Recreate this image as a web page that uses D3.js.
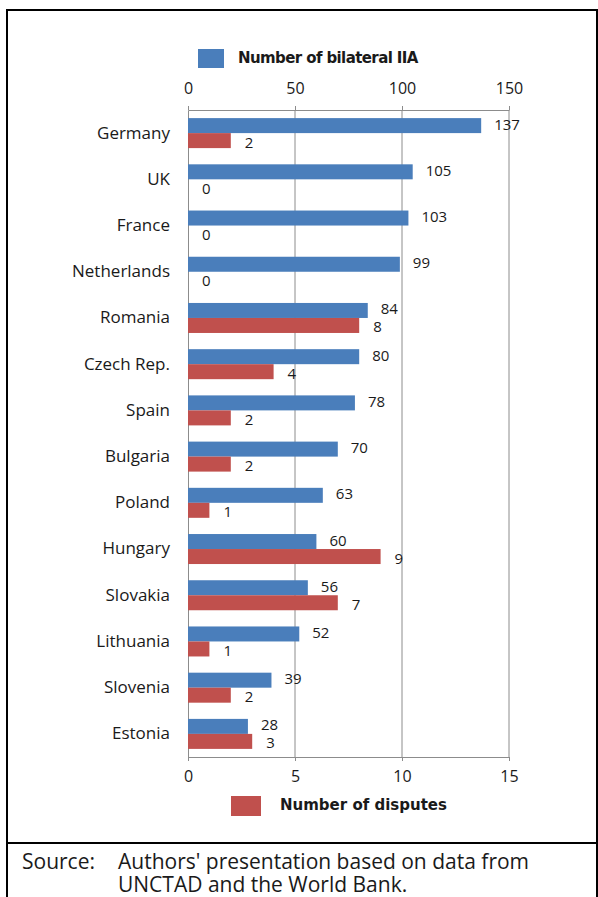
<!DOCTYPE html>
<html>
<head>
<meta charset="utf-8">
<script src="https://cdn.jsdelivr.net/npm/d3@7"></script>
<style>
  body { margin: 0; background: #fff; }
  text { font-family: "Open Sans", sans-serif; }
  text.legend { font-family: "DejaVu Sans", sans-serif; font-weight: bold; }
</style>
</head>
<body>
<div class="chart"></div>
<script>
let countries = ["Germany", "UK", "France", "Netherlands", "Romania", "Czech Rep.", "Spain",
    "Bulgaria", "Poland", "Hungary", "Slovakia", "Lithuania", "Slovenia", "Estonia"]
let bilateralIIA = [137, 105, 103, 99, 84, 80, 78, 70, 63, 60, 56, 52, 39, 28]
let disputes = [2, 0, 0, 0, 8, 4, 2, 2, 1, 9, 7, 1, 2, 3]
let topTicks = [0, 50, 100, 150]
let bottomTicks = [0, 5, 10, 15]

let colors = {
    blue: "#4a7ebb",
    red: "#c0504d",
    grid: "#8c8c8c",
    text: "#1a1a1a"
}

const W = 598, H = 897

const svg = d3.select('.chart')
    .append('svg')
    .attr('width', W)
    .attr('height', H)

// frame lines
svg.append('line').attr('x1', 7).attr('x2', 598).attr('y1', 10).attr('y2', 10)
    .attr('stroke', '#000').attr('stroke-width', 2)
svg.append('line').attr('x1', 7).attr('x2', 7).attr('y1', 9).attr('y2', H)
    .attr('stroke', '#000').attr('stroke-width', 2)
svg.append('line').attr('x1', 597).attr('x2', 597).attr('y1', 9).attr('y2', H)
    .attr('stroke', '#000').attr('stroke-width', 2)
svg.append('line').attr('x1', 7).attr('x2', 598).attr('y1', 843).attr('y2', 843)
    .attr('stroke', '#000').attr('stroke-width', 2)

const xTop = d3.scaleLinear().domain([0, 150]).range([188, 509])
const xBottom = d3.scaleLinear().domain([0, 15]).range([188, 509])
const y = d3.scaleBand().domain(countries).range([110, 757])

const barH = 15

// gridlines
svg.append('g')
    .selectAll('line')
    .data(topTicks.slice(1))
    .join('line')
    .attr('x1', d => xTop(d)).attr('x2', d => xTop(d))
    .attr('y1', 110).attr('y2', 757)
    .attr('stroke', colors.grid).attr('stroke-width', 1)

// top axis
const xAxisTop = d3.axisTop(xTop).tickValues(topTicks).tickSizeInner(4).tickSizeOuter(0)
const topG = svg.append('g').attr('transform', 'translate(0,110)').call(xAxisTop)
topG.select('.domain').attr('stroke', colors.grid)
topG.selectAll('.tick line').attr('stroke', colors.grid)
topG.selectAll('text').attr('font-size', 16).attr('fill', colors.text).attr('y', -16)

// bottom axis
const xAxisBottom = d3.axisBottom(xBottom).tickValues(bottomTicks).tickSizeInner(4).tickSizeOuter(0)
const botG = svg.append('g').attr('transform', 'translate(0,757)').call(xAxisBottom)
botG.select('.domain').attr('stroke', colors.grid)
botG.selectAll('.tick line').attr('stroke', colors.grid)
botG.selectAll('text').attr('font-size', 16).attr('fill', colors.text).attr('y', 14)

// left axis
const yAxis = d3.axisLeft(y).tickSize(0).tickPadding(18)
const yG = svg.append('g').attr('transform', 'translate(188,0)').call(yAxis)
yG.select('.domain').attr('stroke', colors.grid)
yG.selectAll('text').attr('font-size', 17).attr('fill', colors.text)

// bars
const bars = svg.append('g').attr('class', 'bars')
bars.selectAll('.iia')
    .data(countries)
    .join('rect')
    .attr('class', 'iia')
    .attr('x', xTop(0))
    .attr('y', d => y(d) + y.bandwidth() / 2 - barH)
    .attr('width', (d, i) => xTop(bilateralIIA[i]) - xTop(0))
    .attr('height', barH)
    .attr('fill', colors.blue)

bars.selectAll('.disp')
    .data(countries)
    .join('rect')
    .attr('class', 'disp')
    .attr('x', xBottom(0))
    .attr('y', d => y(d) + y.bandwidth() / 2)
    .attr('width', (d, i) => xBottom(disputes[i]) - xBottom(0))
    .attr('height', barH)
    .attr('fill', colors.red)

// value labels
const labels = svg.append('g')
labels.selectAll('.iia-lbl')
    .data(countries)
    .join('text')
    .attr('x', (d, i) => xTop(bilateralIIA[i]) + 13)
    .attr('y', d => y(d) + y.bandwidth() / 2 - barH / 2 - 2)
    .attr('dominant-baseline', 'central')
    .attr('font-size', 15)
    .attr('fill', colors.text)
    .text((d, i) => bilateralIIA[i])

labels.selectAll('.disp-lbl')
    .data(countries)
    .join('text')
    .attr('x', (d, i) => xBottom(disputes[i]) + 14)
    .attr('y', d => y(d) + y.bandwidth() / 2 + barH / 2 + 1)
    .attr('dominant-baseline', 'central')
    .attr('font-size', 15)
    .attr('fill', colors.text)
    .text((d, i) => disputes[i])

// legends
svg.append('rect').attr('x', 198).attr('y', 49).attr('width', 26).attr('height', 19).attr('fill', colors.blue)
svg.append('text').attr('class', 'legend').attr('x', 238).attr('y', 58).attr('dominant-baseline', 'central')
    .attr('font-size', 15).attr('fill', colors.text)
    .attr('letter-spacing', -0.6)
    .text('Number of bilateral IIA')

svg.append('rect').attr('x', 231).attr('y', 796).attr('width', 30).attr('height', 20).attr('fill', colors.red)
svg.append('text').attr('class', 'legend').attr('x', 280).attr('y', 805).attr('dominant-baseline', 'central')
    .attr('font-size', 15).attr('fill', colors.text)
    .attr('letter-spacing', 0)
    .text('Number of disputes')

// source
const src = svg.append('g').attr('font-size', 21).attr('fill', colors.text)
src.append('text').attr('x', 22).attr('y', 869).text('Source:')
src.append('text').attr('x', 118).attr('y', 869).text("Authors' presentation based on data from")
src.append('text').attr('x', 118).attr('y', 892).text('UNCTAD and the World Bank.')
</script>
</body>
</html>
